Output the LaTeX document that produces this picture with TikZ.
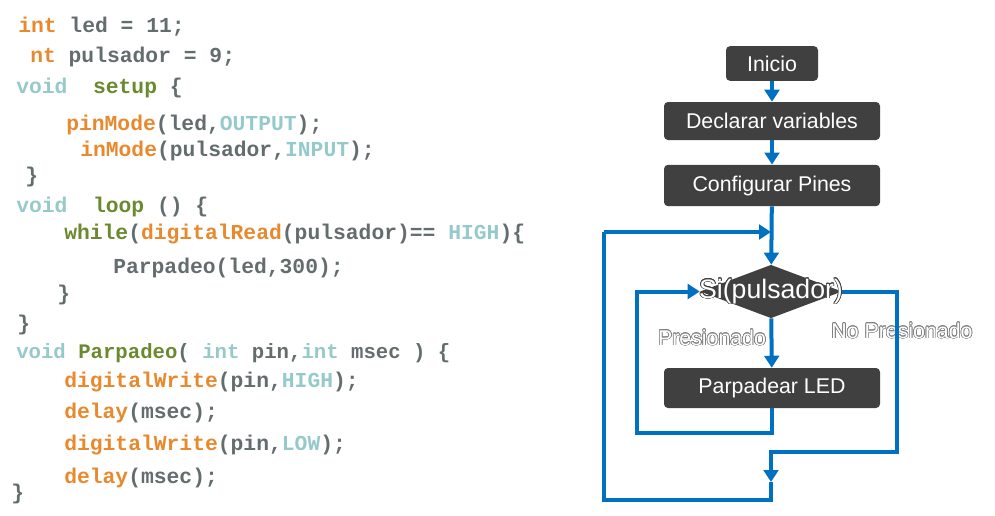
\documentclass[tikz,border=0pt]{standalone}
\usepackage{fontspec}
\setmainfont{Liberation Sans}
\newfontfamily\codefont{Liberation Mono}
\usepackage[copies]{contour}
\usepackage{tikz}
\usetikzlibrary{arrows.meta,positioning,shapes.geometric}

\definecolor{codegray}{HTML}{646D6D}
\definecolor{codeorange}{HTML}{E8892E}
\definecolor{codeteal}{HTML}{96C9CB}
\definecolor{codegreen}{HTML}{6B8A2E}
\definecolor{boxgray}{HTML}{404040}
\definecolor{flowblue}{HTML}{0070C0}

\newcommand\kwfn[1]{\textcolor{codeorange}{#1}}
\newcommand\kwty[1]{\textcolor{codeteal}{#1}}
\newcommand\kwgr[1]{\textcolor{codegreen}{#1}}
\contourlength{0.5pt}

\begin{document}
\begin{tikzpicture}[
        x=0.75pt,
        y=-0.75pt,
        codeline/.style={anchor=base west, inner sep=0pt, text=codegray, font=\codefont\bfseries\fontsize{16}{16}\selectfont},
        stepbox/.style={draw=none, fill=boxgray, rounded corners=3pt, text=white, minimum width=162pt, font=\fontsize{16}{16}\selectfont},
        decision/.style={diamond, fill=boxgray, inner sep=0pt, minimum width=106.5pt, minimum height=40pt},
        cond text/.style={font=\fontsize{20}{20}\selectfont},
        branch/.style={font=\fontsize{16}{16}\selectfont},
        flow/.style={line width=3pt, flowblue, -{Triangle[width=11pt,length=9pt]}},
        line/.style={line width=3pt, flowblue}
    ]
        \useasboundingbox (0,0) rectangle (995,515);

        % Left side: the Arduino sketch
        \node[codeline] (l1) at (18,32) {\kwfn{int} led = 11;};
        \node[codeline] (l2) at (30,62) {\kwfn{nt} pulsador = 9;};
        \node[codeline] (l3) at (16,93) {\kwty{void}~~\kwgr{setup} \{};
        \node[codeline] (l4) at (66,130) {\kwfn{pinMode}(led,\kwty{OUTPUT});};
        \node[codeline] (l5) at (80,156) {\kwfn{inMode}(pulsador,\kwty{INPUT});};
        \node[codeline] (l6) at (25,182) {\}};
        \node[codeline] (l7) at (16,212) {\kwty{void}~~\kwgr{loop} () \{};
        \node[codeline] (l8) at (64,239) {\kwgr{while}(\kwfn{digitalRead}(pulsador)== \kwty{HIGH})\{};
        \node[codeline] (l9) at (113,273) {Parpadeo(led,300);};
        \node[codeline] (l10) at (57,300) {\}};
        \node[codeline] (l11) at (17,330) {\}};
        \node[codeline, font=\codefont\bfseries\fontsize{15.5}{16}\selectfont] (l12) at (16,358) {\kwty{void} \kwgr{Parpadeo}( \kwty{int} pin,\kwty{int} msec ) \{};
        \node[codeline] (l13) at (64,387) {\kwfn{digitalWrite}(pin,\kwty{HIGH});};
        \node[codeline] (l14) at (64,418) {\kwfn{delay}(msec);};
        \node[codeline] (l15) at (64,450) {\kwfn{digitalWrite}(pin,\kwty{LOW});};
        \node[codeline] (l16) at (64,483) {\kwfn{delay}(msec);};
        \node[codeline] (l17) at (11,499) {\}};

        % Right side: flowchart
        \node[stepbox, minimum width=69pt, minimum height=26pt] (start) at (772,63.5) {Inicio};
        \node[stepbox, minimum height=28.5pt] (decl) at (772,121) {Declarar variables};
        \node[stepbox, minimum height=31pt] (config) at (772,185.5) {Configurar Pines};
        \node[decision] (cond) at (771,291.5) {};
        \node[cond text] (condtext) at (cond) {\contour{boxgray}{\textcolor{white}{Si(pulsador)}}};
        \node[stepbox, minimum height=30pt] (blink) at (772,388) {Parpadear LED};
        \node[branch] (pressed) at (712,338) {\contour{gray}{\textcolor{white}{Presionado}}};
        \node[branch] (notpressed) at (902,331) {\contour{gray}{\textcolor{white}{No Presionado}}};

        \coordinate (inner) at (637,433);
        \coordinate (outer) at (897,452);
        \coordinate (merge) at (771,482);
        \coordinate (back) at (604,500);
        \coordinate (join) at (771,232);

        \draw[flow] (start) -- (decl);
        \draw[flow] (decl) -- (config);
        \draw[flow] (config) -- (cond);
        \draw[flow] (cond) -- (blink);
        \draw[flow] (blink.south) |- (inner) |- (cond.west);
        \draw[flow] (cond.east) -| (outer) -| (merge);
        \draw[line] (merge) |- (back) -- (back |- join);
        \draw[flow] (back |- join) -- (join);
    \end{tikzpicture}
\end{document}
